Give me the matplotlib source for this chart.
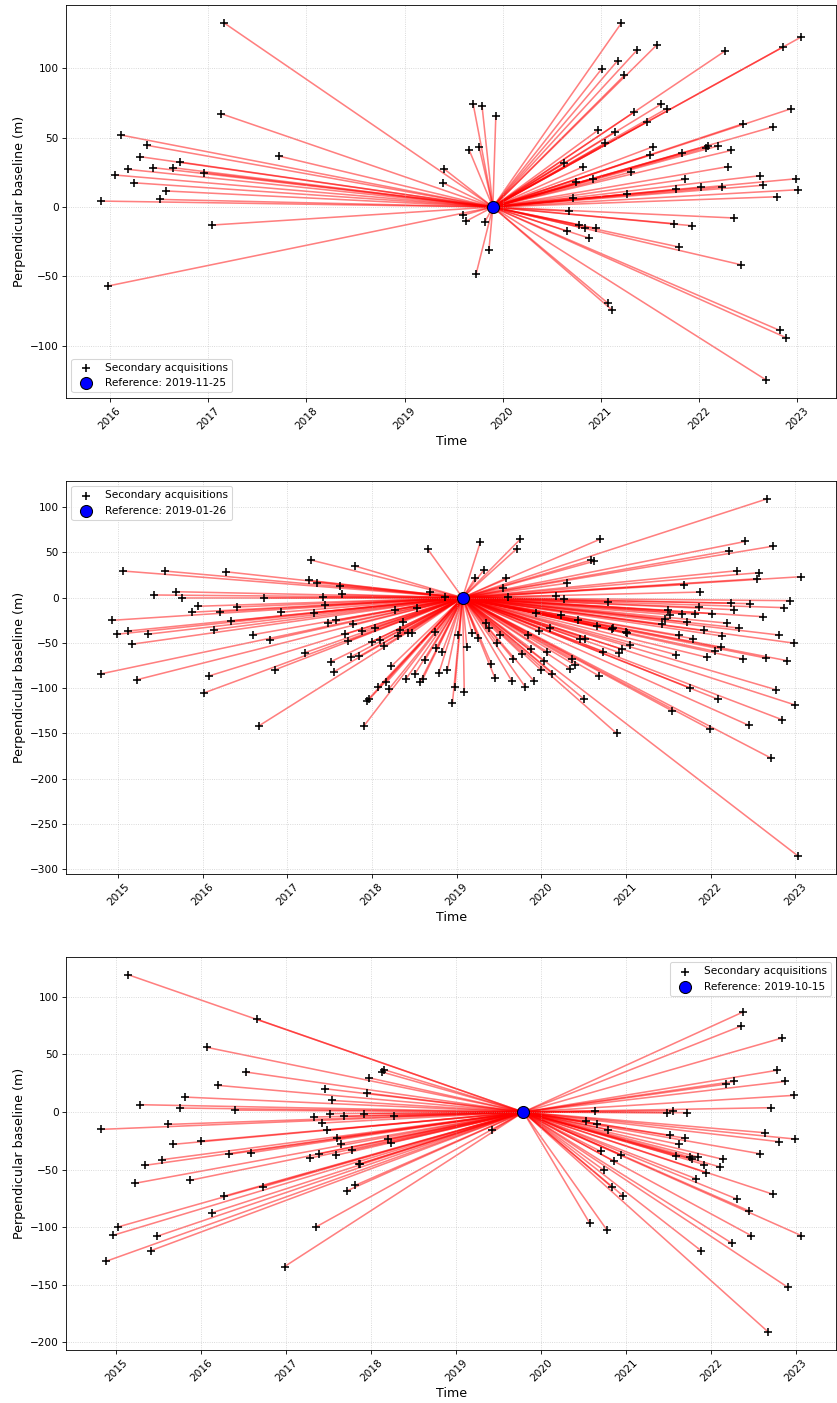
import matplotlib
matplotlib.use("Agg")
import matplotlib.pyplot as plt

# Acquisition times in decimal years, perpendicular baselines in metres.
# Stack 1, reference 2019-11-25
ref_1_label = "2019-11-25"
ref_1_t = 2019.90
t_1 = [2017.16, 2017.13, 2016.11, 2016.38, 2016.31, 2017.72, 2016.18, 2016.05, 2016.44, 2016.64,
       2016.71, 2016.96, 2016.24, 2016.57, 2016.51, 2015.91, 2017.04, 2015.98,
       2019.70, 2019.79, 2019.93, 2019.66, 2019.76, 2019.40, 2019.39, 2019.60, 2019.63, 2019.82,
       2019.86, 2019.73,
       2021.21, 2021.37, 2021.57, 2021.17, 2021.01, 2021.24, 2022.26, 2022.85, 2023.04, 2021.34,
       2021.61, 2021.67, 2021.47, 2022.94, 2022.45, 2022.75, 2020.97, 2021.14, 2021.04, 2021.53,
       2021.50, 2021.83, 2022.07, 2022.09, 2022.19, 2022.33, 2020.62, 2020.82, 2021.31, 2022.29,
       2020.75, 2020.92, 2021.86, 2022.62, 2022.99, 2022.65, 2023.01, 2021.77, 2022.02, 2022.23,
       2022.79, 2021.27, 2020.72, 2020.68, 2022.36, 2020.65, 2020.78, 2020.84, 2020.95, 2020.88,
       2021.74, 2021.93, 2021.80, 2022.43, 2021.07, 2021.11, 2022.82, 2022.89, 2022.68]
b_1 = [133.0, 67.4, 52.0, 44.5, 36.3, 36.8, 27.2, 23.1, 28.4, 28.4,
       32.5, 24.8, 17.5, 11.6, 5.5, 4.3, -13.0, -57.0,
       74.1, 72.7, 65.5, 40.9, 43.3, 27.7, 17.5, -5.8, -10.1, -10.6,
       -31.0, -48.1,
       132.9, 113.4, 117.0, 105.6, 99.9, 95.1, 112.4, 115.3, 122.7, 68.6,
       74.1, 71.0, 61.6, 71.0, 60.2, 57.8, 55.4, 54.2, 46.0, 43.5,
       37.8, 38.8, 42.8, 44.3, 44.0, 40.9, 32.0, 29.1, 25.3, 29.1,
       18.3, 20.4, 20.0, 22.6, 20.4, 15.7, 12.5, 12.8, 14.4, 14.4,
       7.4, 9.2, 6.7, -3.1, -7.9, -17.3, -12.8, -15.4, -15.4, -22.4,
       -12.0, -13.5, -28.9, -41.7, -69.3, -74.1, -89.0, -94.4, -124.7]

# Stack 2, reference 2019-01-26
ref_2_label = "2019-01-26"
ref_2_t = 2019.07
t_2 = [2017.28, 2015.06, 2015.55, 2016.27, 2017.25, 2015.42, 2015.68, 2015.75, 2016.73, 2015.94,
       2015.87, 2016.20, 2016.40, 2016.92, 2014.93, 2016.34, 2015.12, 2014.99, 2015.35, 2016.13,
       2016.60, 2016.79, 2015.16, 2017.21, 2014.80, 2015.22, 2016.08, 2016.86, 2016.01, 2016.66,
       2018.66, 2017.80, 2017.35, 2017.62, 2017.64, 2017.42, 2017.45, 2017.32, 2018.69, 2018.86,
       2018.27, 2018.53, 2017.48, 2017.58, 2017.78, 2017.68, 2017.88, 2018.04, 2018.37, 2018.33,
       2018.31, 2018.43, 2018.47, 2017.72, 2018.00, 2018.10, 2018.14, 2017.51, 2017.55, 2017.75,
       2017.85, 2018.23, 2018.63, 2018.74, 2018.76, 2018.83, 2019.02, 2019.12, 2018.40, 2018.51,
       2018.57, 2018.60, 2018.79, 2018.89, 2018.07, 2018.17, 2018.20, 2017.94, 2017.97, 2018.98,
       2019.09, 2018.95, 2017.90,
       2019.28, 2019.75, 2019.71, 2019.32, 2019.22, 2019.58, 2019.55, 2019.61, 2020.69, 2020.59,
       2020.62, 2020.30, 2020.17, 2020.27, 2020.79, 2019.94, 2020.23, 2020.43, 2020.66, 2020.83,
       2020.85, 2021.00, 2021.01, 2019.35, 2019.38, 2019.51, 2019.48, 2019.18, 2019.25, 2019.84,
       2019.97, 2020.10, 2019.88, 2019.77, 2019.67, 2020.07, 2020.03, 2020.00, 2020.13, 2019.91,
       2019.81, 2019.65, 2019.45, 2019.41, 2020.36, 2020.34, 2020.40, 2020.52, 2020.46, 2020.73,
       2020.92, 2020.95, 2021.05, 2020.68, 2020.50, 2020.89,
       2022.67, 2022.41, 2022.74, 2022.22, 2022.31, 2022.57, 2022.55, 2023.07, 2021.69, 2021.88,
       2022.24, 2022.28, 2022.47, 2022.94, 2022.87, 2021.86, 2021.50, 2021.52, 2021.46, 2021.43,
       2021.66, 2021.82, 2022.02, 2021.72, 2022.19, 2022.62, 2022.34, 2021.92, 2021.63, 2021.79,
       2022.14, 2022.81, 2022.98, 2021.59, 2021.96, 2022.05, 2022.12, 2022.38, 2022.65, 2022.90,
       2021.76, 2022.09, 2021.54, 2021.99, 2022.77, 2023.00, 2022.84, 2022.45, 2022.71, 2023.03]
b_2 = [41.6, 29.5, 29.5, 28.7, 19.2, 3.0, 6.6, 0.0, 0.0, -9.5,
       -16.1, -15.5, -10.3, -16.1, -25.0, -25.7, -36.8, -40.4, -40.4, -35.3,
       -40.8, -46.7, -51.5, -60.7, -84.2, -90.8, -86.4, -79.5, -105.5, -142.0,
       53.4, 35.0, 16.6, 12.9, 3.7, 1.1, -8.1, -16.5, 6.3, 1.1,
       -13.2, -11.7, -27.9, -25.0, -29.4, -40.4, -36.8, -33.1, -26.5, -35.7,
       -42.6, -38.6, -38.6, -47.8, -48.6, -47.0, -53.3, -71.0, -82.0, -65.5,
       -64.7, -75.7, -68.4, -37.9, -55.2, -59.6, -40.8, -54.4, -90.0, -83.9,
       -92.7, -90.0, -83.4, -80.1, -99.3, -93.8, -101.1, -114.0, -112.1, -98.6,
       -103.8, -117.0, -142.4,
       61.5, 64.5, 54.1, 30.6, 21.7, 21.4, 11.0, 1.1, 64.5, 41.6,
       40.2, 15.9, 1.9, -1.1, -4.7, -17.2, -19.4, -24.6, -31.2, -34.9,
       -33.1, -37.9, -39.3, -27.6, -33.1, -41.5, -50.3, -38.6, -44.2, -41.5,
       -36.4, -33.1, -56.3, -62.5, -68.0, -59.9, -70.2, -80.1, -83.9, -91.9,
       -98.6, -91.9, -88.3, -73.2, -67.3, -78.4, -74.6, -45.3, -45.9, -59.9,
       -60.7, -57.0, -52.2, -86.4, -111.8, -150.1,
       109.4, 62.2, 57.0, 51.9, 29.8, 27.6, 21.0, 23.2, 14.4, 6.2,
       -6.0, -13.3, -6.6, -3.3, -11.0, -10.7, -14.0, -18.8, -23.2, -29.2,
       -17.7, -18.1, -17.7, -27.0, -28.1, -21.0, -33.6, -36.1, -41.7, -45.3,
       -42.4, -41.3, -50.2, -63.0, -66.0, -59.3, -54.6, -67.8, -66.7, -69.6,
       -99.9, -112.4, -124.9, -145.2, -101.7, -118.7, -134.8, -141.1, -177.2, -285.5]

# Stack 3, reference 2019-10-15
ref_3_label = "2019-10-15"
ref_3_t = 2019.79
t_3 = [2015.14, 2016.66, 2016.07, 2016.53, 2016.19, 2015.81, 2015.28, 2015.75, 2016.40, 2014.82,
       2015.61, 2015.67, 2016.00, 2016.32, 2016.59, 2015.54, 2015.34, 2015.22, 2015.87, 2016.72,
       2016.27, 2016.13, 2015.02, 2014.96, 2015.48, 2015.41, 2014.88, 2016.98,
       2018.15, 2018.13, 2017.97, 2017.45, 2017.95, 2017.54, 2017.32, 2017.51, 2017.68, 2017.91,
       2018.27, 2017.42, 2017.48, 2017.60, 2017.64, 2017.77, 2018.20, 2018.23, 2017.28, 2017.38,
       2017.58, 2017.85, 2017.87, 2017.81, 2017.71, 2017.35, 2019.42,
       2022.37, 2022.35, 2022.83, 2022.77, 2022.87, 2022.18, 2022.27, 2022.97, 2022.70, 2020.63,
       2021.48, 2021.55, 2021.72, 2020.53, 2020.66, 2020.79, 2021.52, 2021.69, 2021.62, 2022.63,
       2022.80, 2022.99, 2022.57, 2020.70, 2020.94, 2020.86, 2021.59, 2021.75, 2021.78, 2021.85,
       2021.92, 2021.94, 2022.14, 2022.11, 2021.82, 2020.74, 2020.83, 2020.96, 2022.73, 2022.31,
       2022.45, 2023.06, 2022.47, 2022.25, 2021.88, 2020.57, 2020.77, 2022.90, 2022.67]
b_3 = [119.2, 80.4, 56.1, 34.7, 23.2, 13.0, 6.4, 3.5, 1.7, -15.0,
       -10.7, -28.0, -25.2, -36.7, -35.2, -41.3, -46.2, -61.8, -59.2, -65.0,
       -72.9, -87.3, -99.7, -107.0, -107.8, -120.2, -129.5, -134.1,
       36.8, 34.7, 29.8, 20.3, 16.5, 10.1, -4.3, -1.4, -3.7, -1.4,
       -3.7, -9.5, -15.9, -22.2, -27.4, -33.2, -23.1, -26.9, -39.9, -36.1,
       -37.6, -45.4, -44.8, -63.6, -68.5, -99.7, -15.9,
       86.7, 74.6, 64.2, 36.2, 26.6, 24.3, 26.6, 14.5, 3.8, 0.9,
       -0.5, 1.2, -0.5, -7.8, -10.4, -15.3, -20.2, -22.6, -28.0, -17.9,
       -25.7, -23.4, -36.1, -34.1, -37.0, -42.8, -38.2, -39.0, -41.0, -39.0,
       -45.6, -52.6, -41.0, -47.7, -57.8, -50.6, -65.0, -72.5, -71.4, -75.7,
       -85.9, -107.2, -107.2, -114.1, -120.2, -96.3, -102.0, -152.0, -190.8]

stacks = [
    (t_1, b_1, ref_1_t, ref_1_label, "lower left"),
    (t_2, b_2, ref_2_t, ref_2_label, "upper left"),
    (t_3, b_3, ref_3_t, ref_3_label, "upper right"),
]

dpi = 76
fig, axes = plt.subplots(3, 1, figsize=(837 / dpi, 1403 / dpi), dpi=dpi)
fig.subplots_adjust(left=0.079, right=0.999, top=0.9965, bottom=0.038, hspace=0.212)

for ax, (t, b, ref_t, ref_label, loc) in zip(axes, stacks):
    # connect each secondary to the reference
    for ti, bi in zip(t, b):
        ax.plot([ref_t, ti], [0, bi], color="red", alpha=0.5, linewidth=1.5, zorder=1)
    ax.scatter(t, b, marker="+", color="black", s=70, linewidths=1.5, zorder=2,
               label="Secondary acquisitions")
    ax.scatter([ref_t], [0], color="blue", edgecolors="black", s=130, zorder=3,
               label=f"Reference: {ref_label}")
    years = range(int(min(t)) + 1, int(max(t)) + 1)
    ax.set_xticks(list(years))
    ax.set_xticklabels([str(y) for y in years], rotation=45)
    ax.set_xlabel("Time", fontsize=12)
    ax.set_ylabel("Perpendicular baseline (m)", fontsize=12)
    ax.grid(True, linestyle=":", alpha=0.6)
    ax.legend(loc=loc)

fig.savefig("out.png", dpi=dpi)
